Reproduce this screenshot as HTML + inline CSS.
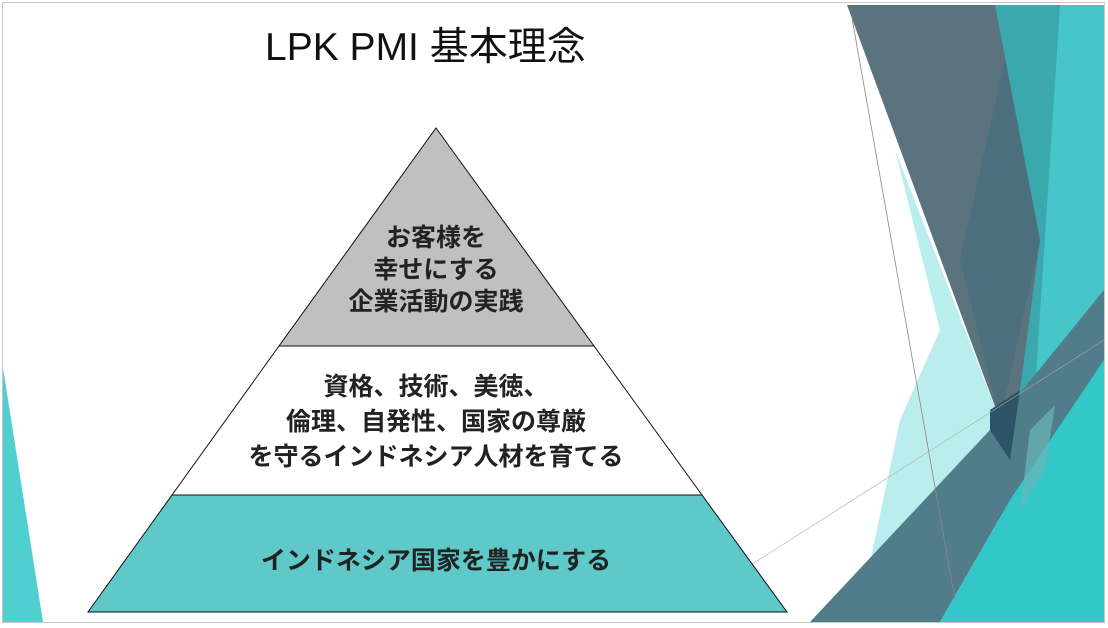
<!DOCTYPE html>
<html><head><meta charset="utf-8"><style>
html,body{margin:0;padding:0;background:#fff;}
body{width:1108px;height:628px;overflow:hidden;position:relative;font-family:"Liberation Sans","Noto Sans CJK JP",sans-serif;}
.t{position:absolute;left:0;width:100%;text-align:center;}
</style></head><body>
<svg width="1108" height="628" style="position:absolute;left:0;top:0">
<rect x="2.5" y="2.5" width="1102" height="620" fill="#fff" stroke="#c8c8c8"/>
<polygon points="3,368 3,622 43,622" fill="#4fcfd0"/>
<!-- right decoration -->
<polygon points="990,5 1104,5 1104,622 1000,622" fill="#3aa8ad"/>
<polygon points="1060,5 1104,5 1104,622 1020,622" fill="#46c6c8"/>
<polygon points="895,150 1000,420 990,430 862,600 900,420 940,330" fill="#aeeaea" opacity="0.85"/>
<polygon points="847,5 995,5 1040,240 1020,390 1000,420" fill="#5a737f"/>
<polygon points="1005,60 1040,240 1000,420 960,260" fill="#476e7c" opacity="0.8"/>
<polygon points="810,622 990,430 1104,290 1104,360 1010,500 940,622" fill="#517c8a"/>
<polygon points="990,410 1020,390 1010,460 990,430" fill="#2c5466"/>
<polygon points="940,622 1010,500 1104,360 1104,622" fill="#33c7c8"/>
<polygon points="1030,430 1055,405 1045,470 1020,510" fill="#6ab6b8" opacity="0.7"/>
<line x1="852" y1="18" x2="955" y2="600" stroke="#888" stroke-width="0.8"/>
<line x1="735" y1="575" x2="1104" y2="340" stroke="#aaa" stroke-width="0.6"/>
<!-- pyramid -->
<polygon points="436,128 594,346 279,346" fill="#c0c0c0" stroke="#111" stroke-width="1"/>
<polygon points="279,346 594,346 702,495 172,495" fill="#fff" stroke="#111" stroke-width="1"/>
<polygon points="172,495 702,495 787,612 88,612" fill="#5fc8c8" stroke="#111" stroke-width="1"/>
</svg>
<div class="t" style="left:265px;width:360px;text-align:left;top:16px;font-size:39px;color:#111;">LPK PMI 基本理念</div>
<div class="t" style="left:0;width:872px;top:222px;font-size:25px;font-weight:bold;line-height:32px;color:#222;">お客様を<br>幸せにする<br>企業活動の実践</div>
<div class="t" style="left:0;width:872px;top:370px;font-size:25px;font-weight:bold;line-height:35px;color:#222;">資格、技術、美徳、<br>倫理、自発性、国家の尊厳<br>を守るインドネシア人材を育てる</div>
<div class="t" style="left:0;width:872px;top:544px;font-size:25px;font-weight:bold;line-height:34px;color:#222;">インドネシア国家を豊かにする</div>
</body></html>
